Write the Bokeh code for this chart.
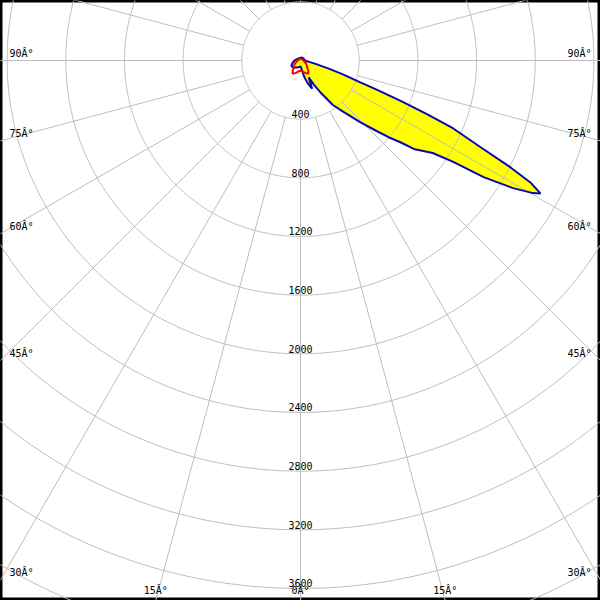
import numpy as np
from bokeh.plotting import figure
from bokeh.models import Range1d
from bokeh.embed import file_html
from bokeh.resources import INLINE
from bokeh.core.properties import value

# C0-C180 plane: gamma in degrees from nadir (positive = right / C0, negative = left / C180), intensity in cd
c0_gamma = [-180, -150, -120, -90, -75, -60, -45, -30, -20, -10, 0, 5, 10, 12, 15, 17.5, 20, 22.5,
            24, 26, 29, 32, 36, 40, 44, 47, 49, 50.7, 52, 55, 56.4, 57.5, 59, 60.3, 61, 62, 63,
            64.3, 66, 67, 68, 69, 70, 72, 74, 77, 80, 85, 90, 120, 150, 180]
c0_int = [20, 18, 22, 40, 55, 72, 70, 55, 50, 45, 40, 50, 75, 105, 135, 160, 185, 208,
          165, 128, 190, 255, 375, 460, 585, 700, 800, 880, 980, 1100, 1250, 1480, 1690, 1825, 1870, 1780, 1610,
          1360, 1140, 940, 740, 560, 430, 300, 200, 110, 65, 40, 30, 25, 22, 20]

# C90-C270 plane
c90_gamma = [-180, -135, -90, -75, -60, -45, -35, -30, -20, -10, 0, 10, 20, 30, 35, 45, 60, 75, 90, 135, 180]
c90_int = [10, 12, 20, 25, 45, 65, 95, 105, 90, 75, 70, 75, 90, 105, 95, 65, 45, 25, 20, 12, 10]

ring_values = [400, 800, 1200, 1600, 2000, 2400, 2800, 3200, 3600, 4000, 4400]
ring_labels = ["400", "800", "1200", "1600", "2000", "2400", "2800", "3200", "3600"]
spoke_angles = list(range(0, 360, 15))
angle_labels = [0, 15, 30, 45, 60, 75, 90]

X_HALF = 2045.0
Y_TOP = 409.0
Y_BOT = -3682.0

W = 600
p = figure(width=W, height=W, output_backend="svg", toolbar_location=None,
           x_range=Range1d(-X_HALF, X_HALF), y_range=Range1d(Y_BOT, Y_TOP),
           min_border=0, match_aspect=False)
p.axis.visible = False
p.xgrid.visible = False
p.ygrid.visible = False
p.outline_line_color = "black"
p.outline_line_width = 4
p.background_fill_color = "white"
p.border_fill_color = "white"


def polar_xy(gammas, intens):
    g = np.radians(np.asarray(gammas, dtype=float))
    r = np.asarray(intens, dtype=float)
    return list(r * np.sin(g)), list(-r * np.cos(g))


# filled C0-C180 curve
bx, by = polar_xy(c0_gamma, c0_int)
p.patch(bx, by, fill_color="#ffff00", line_color=None)

# grid circles
t = np.linspace(0, 2 * np.pi, 721)
cxs = [list(r * np.cos(t)) for r in ring_values]
cys = [list(r * np.sin(t)) for r in ring_values]
p.multi_line(cxs, cys, line_color="#bdbdbd", line_width=1)

# spokes, from the first ring outward
sxs, sys_ = [], []
for a in spoke_angles:
    ar = np.radians(a)
    sxs.append([ring_values[0] * np.sin(ar), 8000 * np.sin(ar)])
    sys_.append([-ring_values[0] * np.cos(ar), -8000 * np.cos(ar)])
p.multi_line(sxs, sys_, line_color="#bdbdbd", line_width=1)

# curve outlines
p.line(bx + [bx[0]], by + [by[0]], line_color="#0808b0", line_width=2)
rx, ry = polar_xy(c90_gamma, c90_int)
p.line(rx + [rx[0]], ry + [ry[0]], line_color="#ff0000", line_width=2)

FONT = value("DejaVu Sans Mono")

# ring labels
ring_r = [float(v) for v in ring_labels]
p.text(x=[0.0] * len(ring_r), y=[-v for v in ring_r], text=ring_labels,
       text_align="center", text_baseline="bottom", text_font=FONT,
       text_font_size="10px", text_color="black", y_offset=-1)

# angle labels at the edge of the frame
for a in angle_labels:
    sides = [1] if a == 0 else [-1, 1]
    for s in sides:
        ar = np.radians(a)
        sa, ca = np.sin(ar), np.cos(ar)
        tx = X_HALF / sa if sa > 1e-9 else np.inf
        ty = -Y_BOT / ca if ca > 1e-9 else np.inf
        lbl = f"{a}Â°"
        if tx < ty:
            x = s * X_HALF
            y = -tx * ca
            p.text(x=[x], y=[y], text=[lbl], text_align="right" if s > 0 else "left",
                   text_baseline="middle", x_offset=-s * 9, y_offset=-7,
                   text_font=FONT, text_font_size="10px", text_color="black")
        else:
            x = s * ty * sa
            y = Y_BOT
            p.text(x=[x], y=[y], text=[lbl], text_align="center",
                   text_baseline="middle", y_offset=-10,
                   text_font=FONT, text_font_size="10px", text_color="black")

open("out.html", "w").write(file_html(p, INLINE))
